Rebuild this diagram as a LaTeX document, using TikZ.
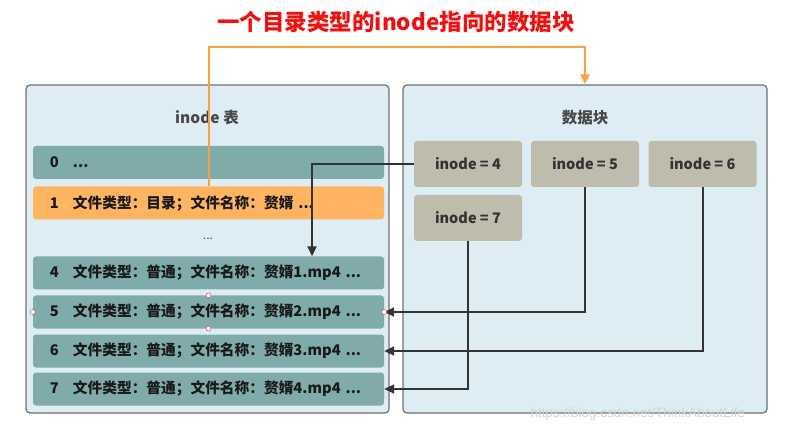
\documentclass[tikz,border=0pt]{standalone}
\usepackage{fontspec}
\setmainfont{Noto Sans CJK SC}
\newfontfamily\wmfont{Liberation Sans}
\usetikzlibrary{arrows.meta}
\definecolor{panelfill}{HTML}{DEECF3}
\definecolor{panelline}{HTML}{707070}
\definecolor{rowfill}{HTML}{7FABAB}
\definecolor{dirfill}{HTML}{FFB461}
\definecolor{blkfill}{HTML}{BDBCAD}
\definecolor{orangeline}{HTML}{F9A13E}
\definecolor{darkline}{HTML}{333333}
\definecolor{titlered}{HTML}{F01010}
\definecolor{handle}{HTML}{C07070}
\tikzset{
  panel/.style={draw=panelline, line width=1.2pt, fill=panelfill, rounded corners=4pt},
  rowbox/.style={fill=rowfill, rounded corners=3pt, minimum width=351pt, minimum height=33pt,
    text width=351pt, inner xsep=0pt, align=left, font=\bfseries\fontsize{14.7}{16}\selectfont, text=black!90},
  blk/.style={fill=blkfill, rounded corners=3pt, minimum width=108pt, minimum height=46pt,
    font=\bfseries\fontsize{14.5}{16}\selectfont, text=black!80},
  conn/.style={draw=darkline, line width=2pt, -{Triangle[length=10pt,width=9pt]}},
  oconn/.style={draw=orangeline, line width=2pt, -{Triangle[length=10pt,width=9pt]}},
  hnd/.style={circle, draw=handle, fill=white, line width=0.6pt, inner sep=0pt, minimum size=5pt},
  ptitle/.style={font=\bfseries\fontsize{15.5}{17}\selectfont, text=black!72},
}
\newcommand{\rowtext}[2]{\hspace*{17pt}\makebox[23pt][l]{#1}#2}
\begin{document}
\begin{tikzpicture}[x=1pt,y=-1pt]
\useasboundingbox (0,0) rectangle (789,435);
% title
\node (title) at (396,22) {\textcolor{titlered}{\bfseries\fontsize{22.5}{24}\selectfont 一个目录类型的inode指向的数据块}};
% panels
\node[panel, minimum width=363pt, minimum height=328pt, inner sep=0pt] (lp) at (207.5,249) {};
\node[panel, minimum width=364pt, minimum height=328pt, inner sep=0pt] (rp) at (585,249) {};
\node[ptitle] (lt) at (207,118) {inode 表};
\node[ptitle] (rt) at (585,118) {数据块};
% rows
\node[rowbox] (r0) at (208.5,162.5) {\rowtext{0}{...}};
\node[rowbox, fill=dirfill] (r1) at (208.5,203) {\rowtext{1}{文件类型：目录；文件名称：赘婿 ...}};
\node[text=black!70, font=\fontsize{12}{14}\selectfont] (dots) at (208,239) {...};
\node[rowbox] (r4) at (208.5,273) {\rowtext{4}{文件类型：普通；文件名称：赘婿1.mp4 ...}};
\node[rowbox] (r5) at (208.5,312) {\rowtext{5}{文件类型：普通；文件名称：赘婿2.mp4 ...}};
\node[rowbox] (r6) at (208.5,351) {\rowtext{6}{文件类型：普通；文件名称：赘婿3.mp4 ...}};
\node[rowbox] (r7) at (208.5,389) {\rowtext{7}{文件类型：普通；文件名称：赘婿4.mp4 ...}};
% data blocks
\node[blk] (i4) at (468,164) {inode = 4};
\node[blk] (i5) at (585,164) {inode = 5};
\node[blk] (i6) at (702.5,164) {inode = 6};
\node[blk] (i7) at (468,218) {inode = 7};
% connectors
\coordinate (c4x) at (312,0);
\coordinate (otop) at (0,47);
\draw[oconn] (r1.north) |- (otop -| r1.north) -| (rp.north);
\draw[conn] (i4.west) -| (r4.north -| c4x);
\draw[conn] (i5.south) |- (r5.east);
\draw[conn] (i6.south) |- (r6.east);
\draw[conn] (i7.south) |- (r7.east);
% selection handles
\node[hnd] (h1) at (r5.north) {};
\node[hnd] (h2) at (r5.south) {};
\node[hnd] (h3) at (r5.west) {};
\node[hnd] (h4) at (r5.east) {};
% watermark
\node[anchor=west, text=gray!35, font=\wmfont\fontsize{13.5}{15}\selectfont] (wm) at (527,414) {https://blog.csdn.net/ThinkAboutLife};
\end{tikzpicture}
\end{document}
